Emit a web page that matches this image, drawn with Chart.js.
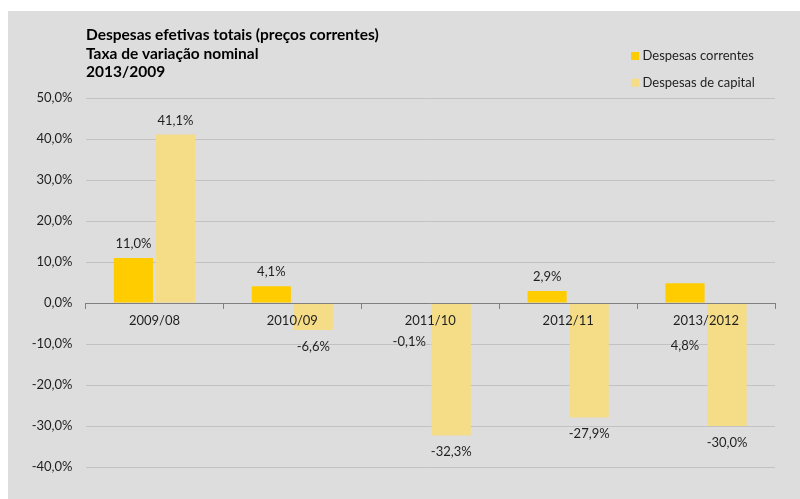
<!DOCTYPE html>
<html>
<head>
<meta charset="utf-8">
<script src="https://cdn.jsdelivr.net/npm/chart.js@4/dist/chart.umd.min.js"></script>
<style>
  html, body { margin: 0; padding: 0; background: #ffffff; }
  #panel { position: absolute; left: 8px; top: 11px; width: 792px; height: 488px; background: #dddddd; }
  canvas { display: block; }
</style>
</head>
<body>
<div id="panel"><canvas id="chart" width="792" height="488"></canvas></div>
<script>
// Nominal growth rates of total effective expenditure (current prices)
const categories = ['2009/08', '2010/09', '2011/10', '2012/11', '2013/2012'];
const currentExpenses = [11.0, 4.1, -0.1, 2.9, 4.8];
const capitalExpenses = [41.1, -6.6, -32.3, -27.9, -30.0];
const seriesNames = ['Despesas correntes', 'Despesas de capital'];
const titleLines = ['Despesas efetivas totais (preços correntes)', 'Taxa de variação nominal', '2013/2009'];
const yTicks = { min: -40, max: 50, step: 10 };

const FONT = 'Lato, "Open Sans", sans-serif';
const TEXT = '#1f1f1f';
const colours = ['#ffcc00', '#f5dc87'];

const pct = v => v.toFixed(1).replace('.', ',') + '%';

// Some value labels sit below the axis line instead of at the bar end
const labelDrop = { 0: { 2: 39, 4: 43 } };

const headerPlugin = {
  id: 'header',
  afterDraw(chart) {
    const ctx = chart.ctx;
    ctx.save();
    ctx.fillStyle = '#000000';
    ctx.font = 'bold 15.5px ' + FONT;
    ctx.textBaseline = 'middle';
    ctx.textAlign = 'left';
    titleLines.forEach((t, i) => ctx.fillText(t, 78, 24 + i * 18.5));

    ctx.font = '13px ' + FONT;
    chart.data.datasets.forEach((ds, i) => {
      const y = 41 + i * 26.7;
      ctx.fillStyle = ds.backgroundColor;
      ctx.fillRect(623, y, 8, 8);
      ctx.fillStyle = TEXT;
      ctx.fillText(ds.label, 634.5, y + 4);
    });
    ctx.restore();
  }
};

const valueLabels = {
  id: 'valueLabels',
  afterDatasetsDraw(chart) {
    const ctx = chart.ctx;
    const zero = chart.scales.y.getPixelForValue(0);
    ctx.save();
    ctx.font = '13px ' + FONT;
    ctx.fillStyle = TEXT;
    ctx.textAlign = 'center';
    ctx.textBaseline = 'middle';
    chart.data.datasets.forEach((ds, di) => {
      const meta = chart.getDatasetMeta(di);
      meta.data.forEach((bar, i) => {
        const v = ds.data[i];
        let y;
        if (labelDrop[di] && labelDrop[di][i] !== undefined) {
          y = zero + labelDrop[di][i];
        } else if (v >= 0) {
          y = bar.y - 14;
        } else {
          y = bar.y + 16.5;
        }
        ctx.fillText(pct(v), bar.x, y);
      });
    });
    ctx.restore();
  }
};

new Chart(document.getElementById('chart'), {
  type: 'bar',
  data: {
    labels: categories,
    datasets: [
      { label: seriesNames[0], data: currentExpenses, backgroundColor: colours[0] },
      { label: seriesNames[1], data: capitalExpenses, backgroundColor: colours[1] }
    ]
  },
  options: {
    responsive: false,
    animation: false,
    categoryPercentage: 0.61,
    barPercentage: 0.93,
    layout: { padding: { top: 87, right: 25, bottom: 32, left: 0 } },
    plugins: {
      legend: { display: false },
      title: { display: false },
      tooltip: { enabled: false }
    },
    scales: {
      x: {
        position: { y: 0 },
        offset: true,
        grid: { display: true, drawOnChartArea: false, drawTicks: true, tickLength: 5, color: '#808080', offset: true },
        border: { display: true, color: '#808080', width: 1, z: 1 },
        ticks: { z: 1, padding: 5, color: TEXT, font: { family: FONT, size: 13 }, maxRotation: 0 }
      },
      y: {
        min: yTicks.min,
        max: yTicks.max,
        afterFit(scale) { scale.width = 77.5; },
        grid: { color: '#c2c2c2', drawTicks: false, lineWidth: 1 },
        border: { display: false },
        ticks: {
          stepSize: yTicks.step,
          padding: 13,
          color: TEXT,
          font: { family: FONT, size: 13 },
          callback: v => pct(v)
        }
      }
    }
  },
  plugins: [headerPlugin, valueLabels]
});
</script>
</body>
</html>
